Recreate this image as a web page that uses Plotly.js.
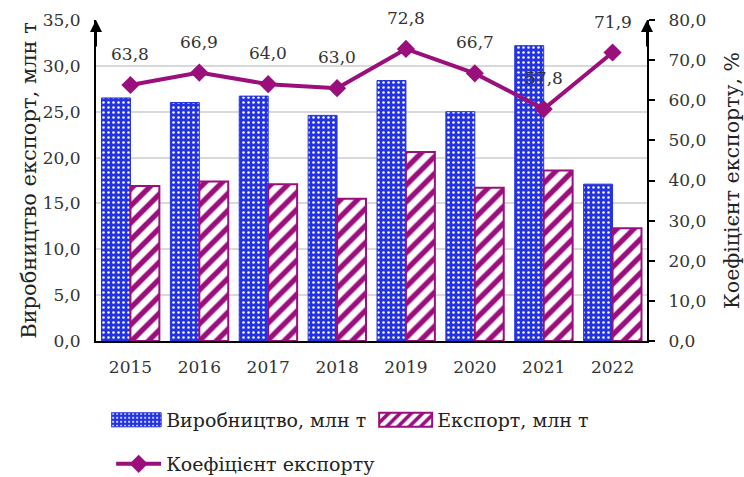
<!DOCTYPE html>
<html><head><meta charset="utf-8">
<script src="https://cdn.plot.ly/plotly-3.0.1.min.js"></script>
<style>html,body{margin:0;padding:0;background:#fff}#chart{width:744px;height:477px}</style>
</head><body><div id="chart"></div>
<script>
const years = ['2015','2016','2017','2018','2019','2020','2021','2022'];
const production = [26.5, 26.0, 26.7, 24.6, 28.4, 25.0, 32.2, 17.1];
const exportVals = [16.9, 17.4, 17.1, 15.5, 20.6, 16.7, 18.6, 12.3];
const ratio = [63.8, 66.9, 64.0, 63.0, 72.8, 66.7, 57.8, 71.9];
const seriesNames = ['Виробництво, млн т', 'Експорт, млн т', 'Коефіцієнт експорту'];

const BLUE = '#2332e2';
const PURPLE = '#9b0f7c';
const FONT = 'DejaVu Serif, Liberation Serif, serif';

const traces = [
  {type:'bar', name:seriesNames[0], x:years, y:production, legend:'legend',
   marker:{color:BLUE, line:{color:BLUE, width:1},
     pattern:{shape:'.', fgcolor:'#ffffff', bgcolor:BLUE, size:5, solidity:0.2, fillmode:'replace'}}},
  {type:'bar', name:seriesNames[1], x:years, y:exportVals, legend:'legend',
   marker:{color:'#ffffff', line:{color:PURPLE, width:2},
     pattern:{shape:'/', fgcolor:PURPLE, bgcolor:'#ffffff', size:12, solidity:0.45, fillmode:'replace'}}},
  {type:'scatter', mode:'lines+markers', name:seriesNames[2], x:years, y:ratio, yaxis:'y2', legend:'legend2',
   line:{color:PURPLE, width:4}, marker:{symbol:'diamond', size:14, color:PURPLE}}
];

const annotations = ratio.map((v,i)=>({
  x:i, y:v, xref:'x', yref:'y2', text:v.toFixed(1).replace('.',','),
  showarrow:false, yshift:31, font:{family:FONT, size:17, color:'#333'}
}));
annotations.push({x:0, y:1, xref:'paper', yref:'paper', ax:0, ay:28, text:'', showarrow:true,
  arrowhead:2, arrowsize:1.2, arrowwidth:2, arrowcolor:'#000', standoff:0});
annotations.push({x:1, y:1, xref:'paper', yref:'paper', ax:0, ay:28, text:'', showarrow:true,
  arrowhead:2, arrowsize:1.2, arrowwidth:2, arrowcolor:'#000', standoff:0});

const layout = {
  width:744, height:477,
  margin:{l:96, r:97, t:20, b:136, autoexpand:false},
  paper_bgcolor:'#fff', plot_bgcolor:'#fff',
  separators:', ',
  barmode:'group', bargap:0.16, bargroupgap:0,
  font:{family:FONT, size:17, color:'#333'},
  xaxis:{type:'category', range:[-0.5, years.length-0.5], showline:true, linecolor:'#000', linewidth:2, ticks:'',
    ticklabelstandoff:10, tickfont:{family:FONT, size:17, color:'#333'}, showgrid:false, automargin:false},
  yaxis:{range:[0,35], dtick:5, tickformat:'.1f', showline:true, linecolor:'#000', linewidth:2,
    gridcolor:'#d9d9d9', gridwidth:1.5, ticks:'', zeroline:false, ticklabelstandoff:10, automargin:false,
    tickfont:{family:FONT, size:17, color:'#333'},
    title:{text:'Виробництво експорт, млн т', font:{family:FONT, size:21, color:'#222'}, standoff:0}},
  yaxis2:{range:[0,80], dtick:10, tickformat:'.1f', overlaying:'y', side:'right', showline:true,
    linecolor:'#000', linewidth:2, showgrid:false, zeroline:false, ticks:'outside', ticklen:6, tickwidth:2,
    ticklabelstandoff:10, automargin:false,
    tickcolor:'#000', tickfont:{family:FONT, size:17, color:'#333'},
    title:{text:'Коефіцієнт експорту, %', font:{family:FONT, size:20.5, color:'#222'}, standoff:25}},
  legend:{orientation:'h', x:0.0275, xanchor:'left', y:-0.246, yanchor:'middle', entrywidth:211, entrywidthmode:'pixels',
    font:{family:FONT, size:19, color:'#222'}, itemwidth:45, bgcolor:'rgba(0,0,0,0)'},
  legend2:{orientation:'h', x:0.0275, xanchor:'left', y:-0.383, yanchor:'middle',
    font:{family:FONT, size:19, color:'#222'}, itemwidth:45, bgcolor:'rgba(0,0,0,0)'},
  annotations:annotations
};

Plotly.newPlot('chart', traces, layout, {displayModeBar:false, responsive:false}).then(gd=>{
  // reshape legend swatches: wide rectangles / longer line placed just left of each label
  gd.querySelectorAll('.infolayer g.traces').forEach(tr=>{
    const txt = tr.querySelector('text.legendtext');
    if (!txt) return;
    const tx = parseFloat(txt.getAttribute('x')) || 0;
    tr.querySelectorAll('.legendpoints path').forEach(p=>{
      const d = p.getAttribute('d') || '';
      if (/^M6,6H-6V-6H6Z$/.test(d)) {
        p.setAttribute('d', `M${tx-5},7H${tx-58}V-7H${tx-5}Z`);
        p.setAttribute('transform', '');
      } else if (p.classList.contains('scatterpts')) {
        p.setAttribute('transform', `translate(${tx-31},0)`);
      }
    });
    tr.querySelectorAll('.legendlines path').forEach(p=>{
      p.setAttribute('d', `M${tx-58},0H${tx-3}`);
      p.setAttribute('transform', '');
    });
  });
});
</script></body></html>
